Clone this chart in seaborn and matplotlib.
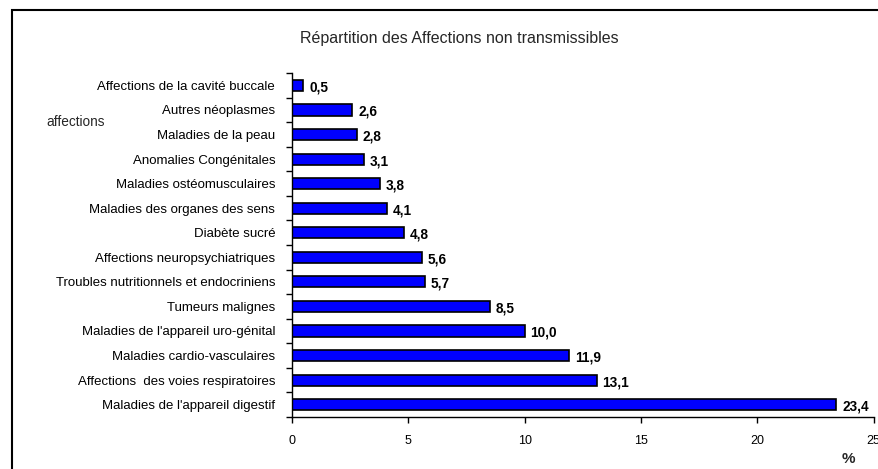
import numpy as np
import pandas as pd
import matplotlib
matplotlib.use("Agg")
import matplotlib.pyplot as plt
from matplotlib.patches import Rectangle
import seaborn as sns

# données
categories = [
    "Affections de la cavité buccale",
    "Autres néoplasmes",
    "Maladies de la peau",
    "Anomalies Congénitales",
    "Maladies ostéomusculaires",
    "Maladies des organes des sens",
    "Diabète sucré",
    "Affections neuropsychiatriques",
    "Troubles nutritionnels et endocriniens",
    "Tumeurs malignes",
    "Maladies de l'appareil uro-génital",
    "Maladies cardio-vasculaires",
    "Affections  des voies respiratoires",
    "Maladies de l'appareil digestif",
]
values = [0.5, 2.6, 2.8, 3.1, 3.8, 4.1, 4.8, 5.6, 5.7, 8.5, 10.0, 11.9, 13.1, 23.4]
x_ticks = [0, 5, 10, 15, 20, 25]

sns.set_theme(style="white")
plt.rcParams["font.family"] = ["Liberation Sans", "DejaVu Sans"]

df = pd.DataFrame({"affection": categories, "pct": values})

fig = plt.figure(figsize=(8.79, 4.69), dpi=100)
ax = fig.add_axes([0.332, 0.111, 0.662, 0.733])

sns.barplot(data=df, x="pct", y="affection", orient="h", color="#0000FF",
            saturation=1, edgecolor="black", linewidth=1.2, width=0.45, ax=ax)

# étiquettes de valeurs
for i, v in enumerate(values):
    ax.text(v + 0.25, i + 0.08, f"{v:.1f}".replace(".", ","), va="center",
            ha="left", fontsize=9.8, fontweight="bold", color="black")

ax.set_xlim(0, 25)
ax.set_ylim(len(categories) - 0.5, -0.5)
ax.set_xticks(x_ticks)
ax.set_xticklabels([str(t) for t in x_ticks], fontsize=9)
ax.tick_params(axis="x", direction="out", length=4, width=1, color="black",
               pad=9, labelcolor="black", bottom=True)

# graduations entre les catégories (style Excel)
ax.set_yticks(np.arange(len(categories)))
ax.set_yticklabels(categories, fontsize=9.5)
ax.tick_params(axis="y", which="major", length=0, pad=12, labelcolor="black")
ax.set_yticks(np.arange(len(categories) + 1) - 0.5, minor=True)
ax.tick_params(axis="y", which="minor", direction="out", length=4, width=1,
               color="black", left=True)

for side in ["top", "right"]:
    ax.spines[side].set_visible(False)
for side in ["left", "bottom"]:
    ax.spines[side].set_color("black")
    ax.spines[side].set_linewidth(1)

ax.set_xlabel("")
ax.set_ylabel("")
ax.grid(False)

fig.text(0.523, 1 - 38 / 469, "Répartition des Affections non transmissibles",
         ha="center", va="center", fontsize=11.5)
fig.text(46 / 879, 1 - 122 / 469, "affections", ha="left", va="center",
         fontsize=9.8)
fig.text(848 / 879, 1 - 459 / 469, "%", ha="center", va="center", fontsize=11,
         fontweight="bold")

# cadre autour du graphique
fig.patches.append(Rectangle((12 / 879, -0.05), 1.0, 1 - 10 / 469 + 0.05,
                             transform=fig.transFigure, fill=False,
                             edgecolor="black", linewidth=1.5))

fig.savefig("out.png", dpi=100)
